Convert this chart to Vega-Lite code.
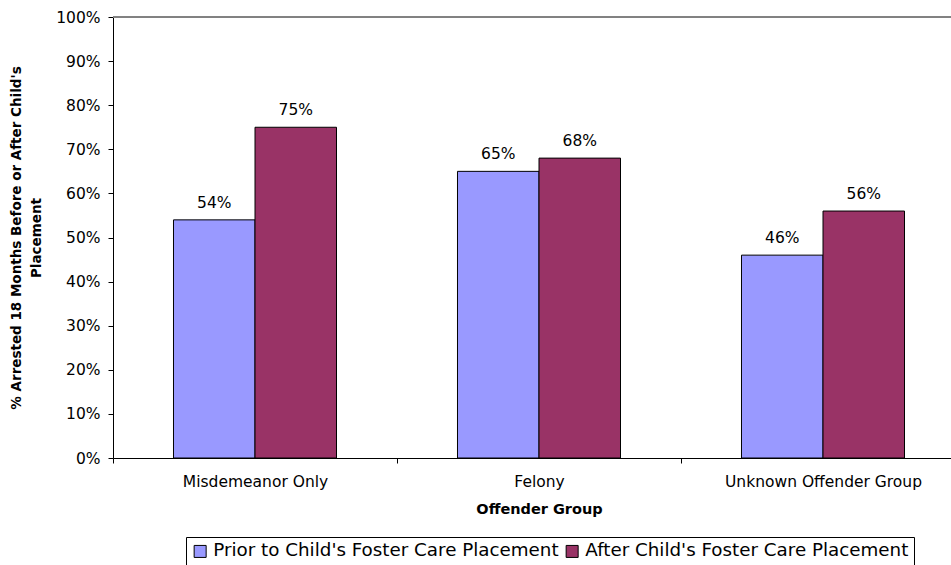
{
  "$schema": "https://vega.github.io/schema/vega-lite/v6.json",
  "width": 838,
  "height": 441,
  "autosize": "none",
  "padding": {"left": 113, "top": 17, "right": 0, "bottom": 107},
  "background": "white",
  "config": {
    "view": {"stroke": null},
    "font": "DejaVu Sans",
    "axis": {
      "labelFont": "DejaVu Sans",
      "labelFontSize": 15.5,
      "labelColor": "black",
      "labelLimit": 400,
      "domainColor": "black",
      "tickColor": "black",
      "titleFont": "DejaVu Sans",
      "titleFontSize": 14.5,
      "titleFontWeight": "bold",
      "titleColor": "black",
      "grid": false
    }
  },
  "data": {
    "values": [
      {"group": "Misdemeanor Only", "period": "Prior to Child's Foster Care Placement", "pct": 0.54},
      {"group": "Misdemeanor Only", "period": "After Child's Foster Care Placement", "pct": 0.75},
      {"group": "Felony", "period": "Prior to Child's Foster Care Placement", "pct": 0.65},
      {"group": "Felony", "period": "After Child's Foster Care Placement", "pct": 0.68},
      {"group": "Unknown Offender Group", "period": "Prior to Child's Foster Care Placement", "pct": 0.46},
      {"group": "Unknown Offender Group", "period": "After Child's Foster Care Placement", "pct": 0.56}
    ]
  },
  "encoding": {
    "x": {
      "field": "group",
      "type": "nominal",
      "sort": null,
      "title": "Offender Group",
      "scale": {"range": [0, 852], "paddingInner": 0, "paddingOuter": 0},
      "axis": {
        "labelAngle": 0,
        "tickBand": "extent",
        "tickSize": 5,
        "labelPadding": 11,
        "titlePadding": 13
      }
    },
    "y": {
      "field": "pct",
      "type": "quantitative",
      "title": ["% Arrested 18 Months Before or After Child's", "Placement"],
      "scale": {"domain": [0, 1], "nice": false},
      "axis": {
        "values": [0, 0.1, 0.2, 0.3, 0.4, 0.5, 0.6, 0.7, 0.8, 0.9, 1],
        "format": ".0%",
        "tickSize": 5,
        "labelPadding": 8,
        "titleFontSize": 13.5,
        "titlePadding": 12,
        "titleLineHeight": 20
      }
    }
  },
  "layer": [
    {
      "mark": {"type": "rule", "color": "#808080", "strokeWidth": 1},
      "encoding": {"y": {"datum": 1}, "x": null}
    },
    {
      "mark": {"type": "bar", "stroke": "black", "strokeWidth": 1},
      "encoding": {
        "xOffset": {
          "field": "period",
          "type": "nominal",
          "sort": null,
          "scale": {"paddingInner": 0, "paddingOuter": 0.742}
        },
        "color": {
          "field": "period",
          "type": "nominal",
          "sort": null,
          "scale": {
            "domain": ["Prior to Child's Foster Care Placement", "After Child's Foster Care Placement"],
            "range": ["#9999FF", "#993366"]
          },
          "legend": {
            "title": null,
            "orient": "none",
            "direction": "horizontal",
            "legendX": 73,
            "legendY": 520,
            "strokeColor": "black",
            "fillColor": "white",
            "padding": 5,
            "symbolType": "square",
            "symbolSize": 144,
            "symbolStrokeColor": "black",
            "symbolStrokeWidth": 1,
            "symbolOpacity": 1,
            "labelFont": "DejaVu Sans",
            "labelFontSize": 18.3,
            "labelColor": "black",
            "labelLimit": 600,
            "labelOffset": 4,
            "columnPadding": 4
          }
        }
      }
    },
    {
      "mark": {"type": "text", "baseline": "bottom", "dy": -9, "fontSize": 15.5, "font": "DejaVu Sans", "color": "black"},
      "encoding": {
        "xOffset": {
          "field": "period",
          "type": "nominal",
          "sort": null,
          "scale": {"paddingInner": 0, "paddingOuter": 0.742}
        },
        "text": {"field": "pct", "type": "quantitative", "format": ".0%"}
      }
    }
  ]
}
